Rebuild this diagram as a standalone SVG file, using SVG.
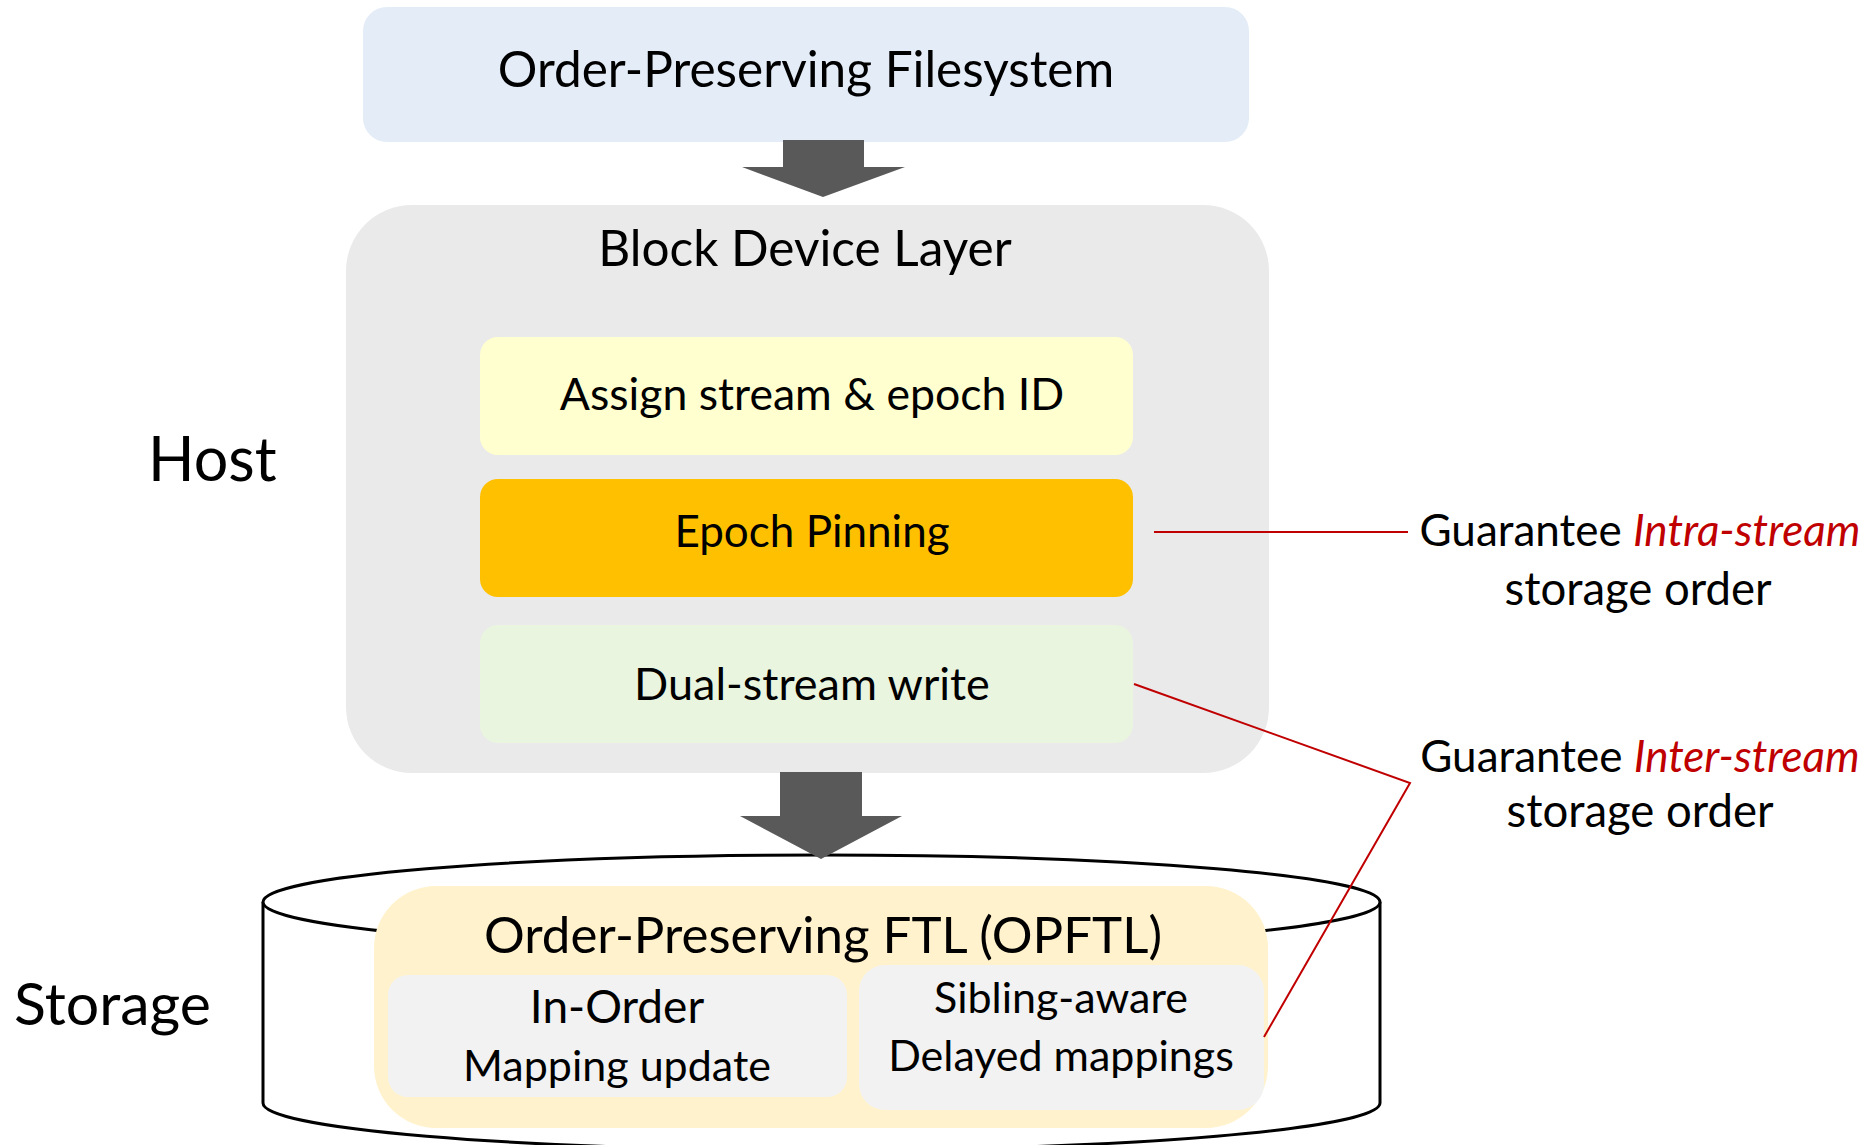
<svg xmlns="http://www.w3.org/2000/svg" width="1873" height="1145" viewBox="0 0 1873 1145">
<style>
text{font-family:Lato,"Liberation Sans",sans-serif;fill:#000;}
.t{font-size:49.5px;text-anchor:middle;}
.s{font-size:44px;text-anchor:middle;}
.big{font-size:61px;}
.red{fill:#C00000;font-style:italic;}
.lead{stroke:#C00000;stroke-width:2;fill:none;}
.arrow{fill:#595959;}
</style>
<rect width="1873" height="1145" fill="#fff"/>
<g id="storage-cylinder">
<path d="M263,902 L263,1103 A558.5,47 0 0 0 1380,1103 L1380,902" fill="#fff" stroke="#000" stroke-width="3"/>
<ellipse cx="821.5" cy="902" rx="558.5" ry="47" fill="#fff" stroke="#000" stroke-width="3"/>
</g>
<g id="host-label"><text class="big" x="148" y="481">Host</text></g>
<g id="storage-label"><text class="big" x="14" y="1025" style="font-size:59px">Storage</text></g>
<g id="filesystem">
<rect x="363" y="7" width="886" height="135" rx="24" fill="#E3ECF7"/>
<text class="t" x="806" y="87">Order-Preserving Filesystem</text>
</g>
<g id="block-device-layer">
<rect x="346" y="205" width="923" height="568" rx="66" fill="#EAEAEA"/>
<text class="t" x="805" y="266">Block Device Layer</text>
</g>
<g id="assign">
<rect x="480" y="337" width="653" height="118" rx="18" fill="#FFFFD0"/>
<text class="s" x="812" y="410" style="font-size:44.6px">Assign stream &amp; epoch ID</text>
</g>
<g id="epoch-pinning">
<rect x="480" y="479" width="653" height="118" rx="18" fill="#FFC000"/>
<text class="s" x="812" y="547">Epoch Pinning</text>
</g>
<g id="dual-stream">
<rect x="480" y="625" width="653" height="118" rx="18" fill="#EAF5DF"/>
<text class="s" x="812" y="700" style="font-size:45px">Dual-stream write</text>
</g>
<g id="opftl">
<rect x="374" y="886" width="894" height="242" rx="62" fill="#FFF2CC"/>
<text class="t" x="823" y="953" style="font-size:51px">Order-Preserving FTL (OPFTL)</text>
</g>
<g id="in-order">
<rect x="388" y="975" width="459" height="122" rx="20" fill="#F2F2F2"/>
<text class="s" x="617" y="1023" style="font-size:46px">In-Order</text>
<text class="s" x="617" y="1081" style="font-size:43px">Mapping update</text>
</g>
<g id="sibling-aware">
<rect x="859" y="965" width="405" height="145" rx="26" fill="#F2F2F2"/>
<text class="s" x="1061" y="1013" style="font-size:43px">Sibling-aware</text>
<text class="s" x="1061" y="1071" style="font-size:43px">Delayed mappings</text>
</g>
<g id="intra-note">
<text class="s" x="1640" y="546">Guarantee <tspan class="red">Intra-stream</tspan></text>
<text class="s" x="1638" y="605" style="font-size:45.5px">storage order</text>
</g>
<g id="inter-note">
<text class="s" x="1640" y="772">Guarantee <tspan class="red">Inter-stream</tspan></text>
<text class="s" x="1640" y="827" style="font-size:45.5px">storage order</text>
</g>
<g id="connectors">
<polygon class="arrow" points="783,140 864,140 864,167 905,167 823,197 742,167 783,167"/>
<polygon class="arrow" points="780,772 862,772 862,816 902,816 821,859 740,816 780,816"/>
<polyline class="lead" points="1154,532 1408,532"/>
<polyline class="lead" points="1134,684 1410,783 1264,1037"/>
</g>
</svg>
